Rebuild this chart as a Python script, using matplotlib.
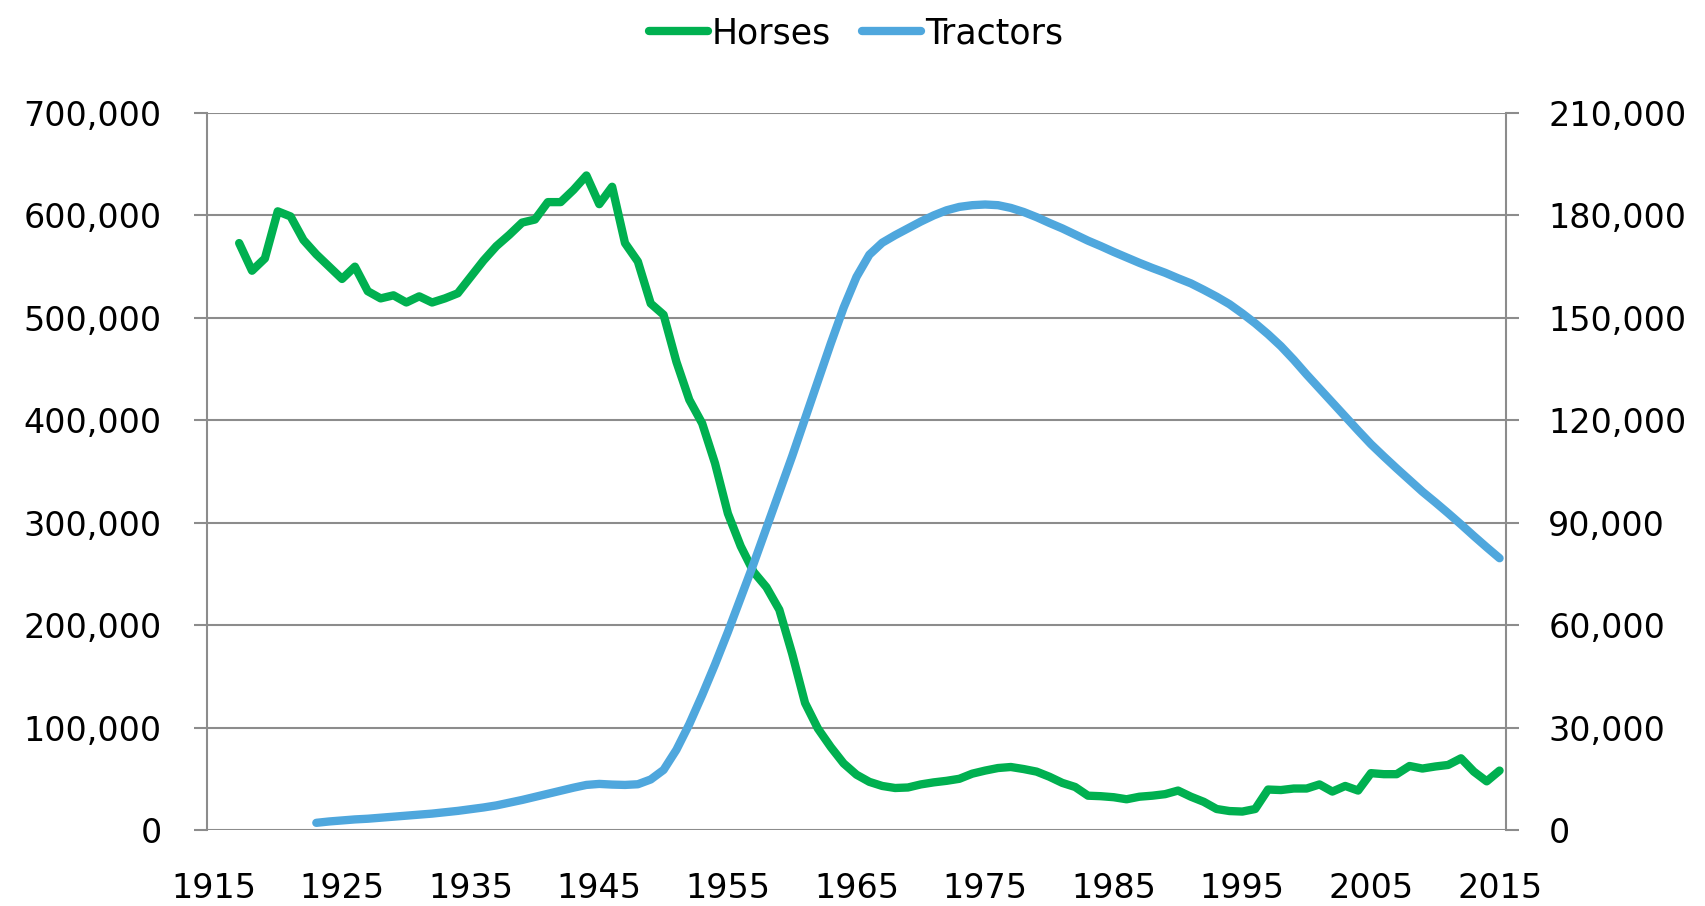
import matplotlib
matplotlib.use("Agg")
import matplotlib.pyplot as plt
from matplotlib.ticker import FuncFormatter

# Horses (left axis), yearly 1917-2015
horse_years = list(range(1917, 2016))
horses = [
    573000, 546000, 558000, 604000, 599000, 576000, 562000, 550000, 538000, 550000,   # 1917-1926
    526000, 519000, 522000, 515000, 521000, 515000, 519000, 524000, 540000, 556000,   # 1927-1936
    570000, 581000, 593000, 596000, 613000, 613000, 625000, 639000, 611000, 628000,   # 1937-1946
    573000, 555000, 514000, 503000, 457000, 420000, 397000, 358000, 309000, 277000,   # 1947-1956
    252000, 237000, 215000, 172000, 124000, 99000, 81000, 65000, 54000, 47000,        # 1957-1966
    43000, 41000, 41500, 44500, 46500, 48000, 50000, 55000, 58000, 60500,             # 1967-1976
    61500, 59500, 57000, 52000, 46000, 42000, 33500, 33000, 32000, 30000,             # 1977-1986
    32500, 33500, 35000, 38500, 32500, 27500, 20500, 18500, 18000, 20500,             # 1987-1996
    39500, 39000, 40500, 40500, 44500, 37500, 43000, 38500, 55500, 54500,             # 1997-2006
    54500, 62500, 60000, 62000, 63500, 70000, 57000, 47500, 58000,                    # 2007-2015
]

# Tractors (right axis), yearly 1923-2015
tractor_years = list(range(1923, 2016))
tractors = [
    2100, 2500, 2800, 3100, 3300, 3600, 3900, 4200, 4500, 4800,                       # 1923-1932
    5200, 5600, 6100, 6600, 7200, 8000, 8800, 9700, 10600, 11500,                     # 1933-1942
    12400, 13200, 13500, 13300, 13200, 13400, 14800, 17600, 23500, 31000,             # 1943-1952
    39500, 48500, 58000, 68000, 78000, 88500, 99000, 109500, 120500, 131500,          # 1953-1962
    142500, 153000, 162000, 168500, 172000, 174200, 176200, 178200, 180000, 181500,   # 1963-1972
    182500, 183000, 183200, 183000, 182200, 181000, 179500, 177800, 176200, 174400,   # 1973-1982
    172600, 171000, 169300, 167700, 166100, 164600, 163200, 161600, 160100, 158200,   # 1983-1992
    156200, 154000, 151300, 148400, 145200, 141700, 137700, 133400, 129300, 125200,   # 1993-2002
    121100, 117000, 113000, 109400, 105900, 102500, 99100, 96000, 92800, 89500,       # 2003-2012
    86100, 82800, 79600,                                                              # 2013-2015
]

year_ticks = list(range(1915, 2016, 10))
left_ticks = list(range(0, 700001, 100000))
right_ticks = list(range(0, 210001, 30000))

green = "#00B050"
blue = "#4FA7DD"
grid_col = "#8C8C8C"

plt.rcParams["font.family"] = ["DejaVu Sans"]

fig = plt.figure(figsize=(17.05, 9.06), dpi=100)
ax = fig.add_axes([207 / 1705, 76 / 906, 1299 / 1705, 717 / 906])
ax2 = ax.twinx()

l1, = ax.plot(horse_years, horses, color=green, lw=6, label="Horses",
              solid_capstyle="round", solid_joinstyle="round")
l2, = ax2.plot(tractor_years, tractors, color=blue, lw=6, label="Tractors",
               solid_capstyle="round", solid_joinstyle="round")

ax.set_xlim(1914.5, 2015.5)
ax.set_ylim(0, 700000)
ax2.set_ylim(0, 210000)
ax.set_xticks(year_ticks)
ax.set_yticks(left_ticks)
ax2.set_yticks(right_ticks)

fmt = FuncFormatter(lambda v, p: "{:,.0f}".format(v))
ax.yaxis.set_major_formatter(fmt)
ax2.yaxis.set_major_formatter(fmt)

ax.grid(axis="y", color=grid_col, lw=1.5)
ax.set_axisbelow(True)

for a in (ax, ax2):
    for s in a.spines.values():
        s.set_visible(False)
ax.spines["left"].set_visible(True)
ax.spines["left"].set_color(grid_col)
ax.spines["left"].set_linewidth(1.5)
ax2.spines["right"].set_visible(True)
ax2.spines["right"].set_color(grid_col)
ax2.spines["right"].set_linewidth(1.5)

ax.tick_params(axis="y", length=9.5, width=1.5, color=grid_col, pad=23, labelsize=24)
ax2.tick_params(axis="y", length=9.5, width=1.5, color=grid_col, pad=21, labelsize=24)
ax.tick_params(axis="x", length=0, pad=30, labelsize=24)

fig.legend(handles=[l1, l2], loc="center", bbox_to_anchor=(856 / 1705, 1 - 33 / 906),
           ncol=2, frameon=False, fontsize=25, handlelength=1.7,
           handletextpad=0.1, columnspacing=0.9)

fig.savefig("out.png", dpi=100)
